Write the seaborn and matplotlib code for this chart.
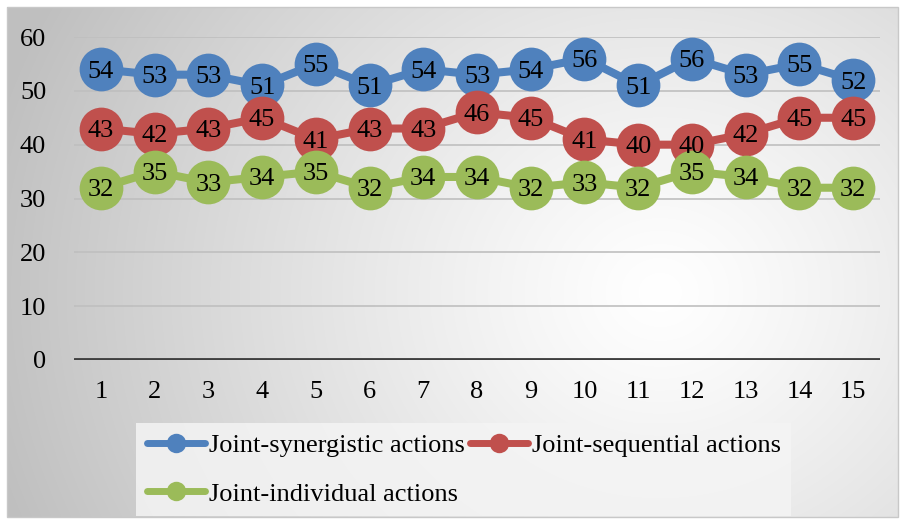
import numpy as np
import pandas as pd
import matplotlib
matplotlib.use("Agg")
import matplotlib.pyplot as plt
import seaborn as sns
from matplotlib.patches import Rectangle

categories = list(range(1, 16))
synergistic = [54, 53, 53, 51, 55, 51, 54, 53, 54, 56, 51, 56, 53, 55, 52]
sequential = [43, 42, 43, 45, 41, 43, 43, 46, 45, 41, 40, 40, 42, 45, 45]
individual = [32, 35, 33, 34, 35, 32, 34, 34, 32, 33, 32, 35, 34, 32, 32]
series_names = ["Joint-synergistic actions", "Joint-sequential actions", "Joint-individual actions"]
colors = ["#4F81BD", "#C0504D", "#9BBB59"]
yticks = [0, 10, 20, 30, 40, 50, 60]

sns.set_theme(style="white")
plt.rcParams['font.family'] = ['Liberation Serif', 'DejaVu Serif']
plt.rcParams['text.color'] = 'black'
plt.rcParams['xtick.color'] = 'black'
plt.rcParams['ytick.color'] = 'black'

W, H = 901, 519
FS = 19
fig = plt.figure(figsize=(W / 100, H / 100), dpi=100)
fig.patch.set_facecolor("white")

# background gradient panel
bg = fig.add_axes([0, 0, 1, 1], zorder=-10)
bg.set_xlim(0, W)
bg.set_ylim(H, 0)
bg.axis("off")
yy, xx = np.mgrid[0:H, 0:W]
d = np.sqrt(((xx - 660) / 1.0) ** 2 + ((yy - 290) / 0.9) ** 2)
v = 1.0 - 0.25 * np.clip(d / 700, 0, 1) ** 1.2
img = np.dstack([v, v, v])
bg.imshow(img, extent=(7, 898, 517, 7), aspect="auto", zorder=0)
bg.add_patch(Rectangle((7, 7), 891, 510, fill=False, edgecolor="#c8c8c8", lw=1, zorder=1))

# main axes
ax = fig.add_axes([74 / W, 1 - 360 / H, (880 - 74) / W, (360 - 37) / H])
ax.set_facecolor("none")

df = pd.DataFrame({
    "x": categories * 3,
    "y": synergistic + sequential + individual,
    "series": [series_names[0]] * 15 + [series_names[1]] * 15 + [series_names[2]] * 15,
})
sns.lineplot(data=df, x="x", y="y", hue="series", palette=colors, ax=ax,
             marker="o", markersize=31.5, markeredgewidth=0, linewidth=5.8,
             legend=True, zorder=3)

for vals in (synergistic, sequential, individual):
    for xv, yv in zip(categories, vals):
        ax.text(xv, yv, str(yv), ha="center", va="center_baseline", fontsize=FS,
                color="black", zorder=5)

ax.set_xlim(0.5, 15.5)
ax.set_ylim(0, 60)
ax.set_xticks(categories)
ax.set_xticklabels([str(c) for c in categories], fontsize=FS)
ax.set_yticks(yticks)
ax.set_yticklabels([str(t) for t in yticks], fontsize=FS)
ax.tick_params(axis="y", length=0, pad=20)
ax.tick_params(axis="x", length=0, pad=15)
ax.set_xlabel("")
ax.set_ylabel("")
for t in yticks[1:]:
    ax.axhline(t, color="#bfbfbf", lw=1.2, zorder=1)
ax.axhline(0, color="#404040", lw=3.5, zorder=2)
for s in ax.spines.values():
    s.set_visible(False)

handles, labels = ax.get_legend_handles_labels()
for h in handles:
    h.set_markersize(14)
    h.set_linewidth(5)
order = [0, 2, 1]
handles = [handles[i] for i in order]
labels = [labels[i] for i in order]
leg = ax.legend(handles, labels, ncol=2, loc="upper left",
                bbox_to_anchor=(136 / W, 1 - 423 / H), bbox_transform=fig.transFigure,
                fontsize=FS, frameon=True, handlelength=2.2, handletextpad=0.15,
                columnspacing=0.2, labelspacing=0.95, borderpad=0.4,
                borderaxespad=0, fancybox=False)
leg.get_frame().set_facecolor("#f4f4f4")
leg.get_frame().set_edgecolor("none")
leg.get_frame().set_alpha(0.85)

fig.savefig("out.png", dpi=100)
